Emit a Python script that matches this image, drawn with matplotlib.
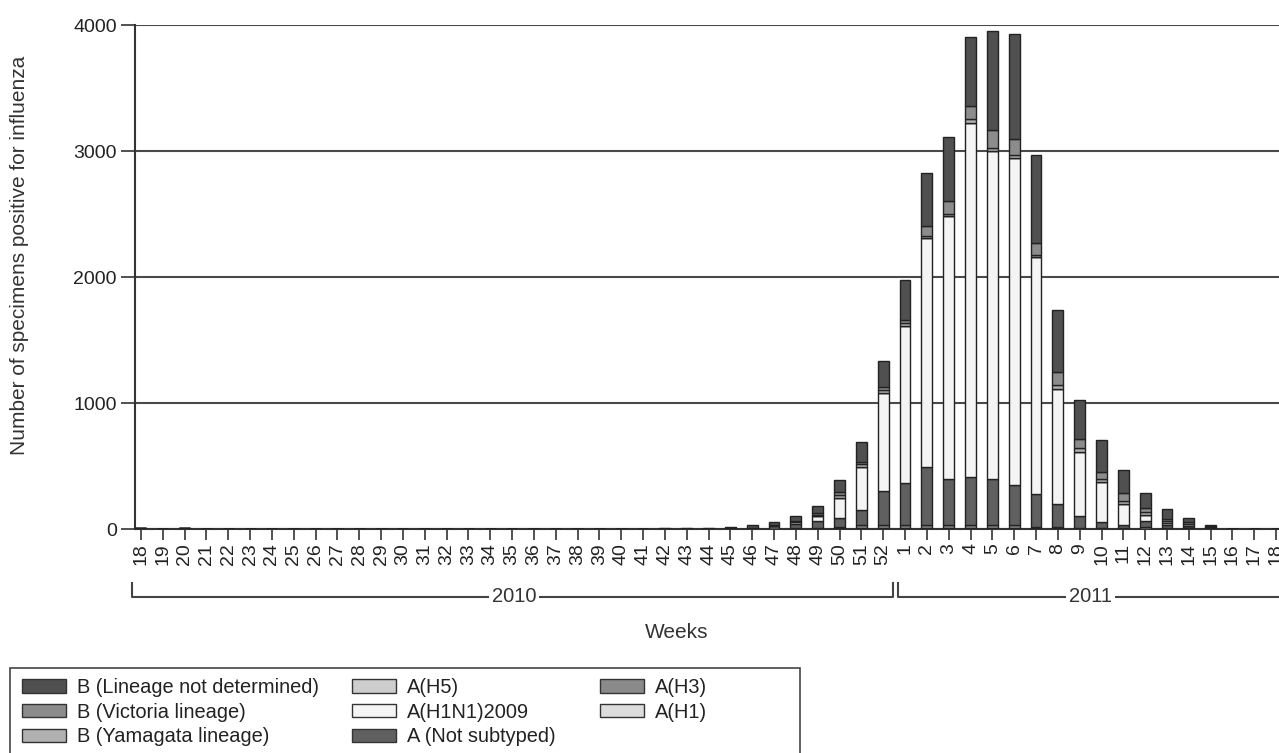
import matplotlib
matplotlib.use("Agg")
import matplotlib.pyplot as plt
import matplotlib.transforms as mtransforms
from matplotlib.patches import Patch, Rectangle

plt.rcParams['font.family'] = ['Liberation Sans', 'DejaVu Sans']

# week labels: 2010 weeks 18-52, 2011 weeks 1-18
weeks_2010 = [18, 19, 20, 21, 22, 23, 24, 25, 26, 27, 28, 29, 30, 31, 32, 33, 34, 35,
              36, 37, 38, 39, 40, 41, 42, 43, 44, 45, 46, 47, 48, 49, 50, 51, 52]
weeks_2011 = [1, 2, 3, 4, 5, 6, 7, 8, 9, 10, 11, 12, 13, 14, 15, 16, 17, 18]

# counts per week, stacked bottom -> top
a_h1 = [0, 0, 0, 0, 0, 0, 0, 0, 0, 0,
        0, 0, 0, 0, 0, 0, 0, 0, 0, 0,
        0, 0, 0, 0, 0, 0, 0, 0, 0, 0,
        2, 3, 5, 8, 10,
        10, 10, 10, 10, 10, 10, 5, 5, 3, 3, 3, 3, 2, 2, 0, 0, 0, 0]
a_h3 = [0, 0, 0, 0, 0, 0, 0, 0, 0, 0,
        0, 0, 0, 0, 0, 0, 0, 0, 0, 0,
        0, 0, 0, 0, 0, 0, 0, 0, 0, 3,
        5, 7, 10, 22, 25,
        25, 25, 20, 20, 25, 25, 10, 10, 7, 7, 7, 12, 8, 5, 0, 0, 0, 0]
a_not_subtyped = [5, 0, 8, 0, 0, 0, 0, 0, 0, 0,
                  0, 0, 0, 0, 0, 0, 0, 0, 0, 0,
                  0, 0, 0, 0, 2, 2, 2, 5, 10, 20,
                  35, 50, 75, 120, 268,
                  332, 458, 364, 384, 359, 313, 262, 183, 93, 48, 25, 50, 20, 15, 10, 0, 0, 0]
a_h1n1 = [0, 0, 0, 0, 0, 0, 0, 0, 0, 0,
          0, 0, 0, 0, 0, 0, 0, 0, 0, 0,
          0, 0, 0, 0, 0, 0, 0, 0, 0, 5,
          10, 40, 153, 344, 777,
          1241, 1814, 2093, 2812, 2608, 2596, 1880, 916, 509, 317, 163, 45, 15, 5, 0, 0, 0, 0]
a_h5 = [0, 0, 0, 0, 0, 0, 0, 0, 0, 0,
        0, 0, 0, 0, 0, 0, 0, 0, 0, 0,
        0, 0, 0, 0, 0, 0, 0, 0, 0, 0,
        0, 0, 0, 0, 0,
        0, 0, 0, 0, 0, 0, 0, 0, 0, 0, 0, 0, 0, 0, 0, 0, 0, 0]
b_yamagata = [0, 0, 0, 0, 0, 0, 0, 0, 0, 0,
              0, 0, 0, 0, 0, 0, 0, 0, 0, 0,
              0, 0, 0, 0, 0, 0, 0, 0, 0, 0,
              8, 12, 25, 20, 23,
              25, 20, 15, 25, 25, 25, 20, 30, 30, 20, 25, 25, 20, 15, 5, 0, 0, 0]
b_victoria = [0, 0, 0, 0, 0, 0, 0, 0, 0, 0,
              0, 0, 0, 0, 0, 0, 0, 0, 0, 0,
              0, 0, 0, 0, 0, 0, 0, 0, 0, 0,
              5, 13, 28, 20, 27,
              25, 75, 100, 110, 140, 130, 95, 100, 70, 60, 65, 30, 15, 10, 5, 0, 0, 0]
b_not_determined = [0, 0, 0, 0, 0, 0, 0, 0, 0, 0,
                    0, 0, 0, 0, 0, 0, 0, 0, 0, 0,
                    0, 0, 0, 0, 3, 3, 3, 10, 20, 27,
                    40, 60, 89, 156, 203,
                    322, 420, 513, 547, 785, 827, 698, 493, 312, 250, 182, 120, 78, 35, 15, 0, 0, 0]

series = [
    ("A(H1)", a_h1, "#dcdcdc"),
    ("A(H3)", a_h3, "#8a8a8a"),
    ("A (Not subtyped)", a_not_subtyped, "#606060"),
    ("A(H1N1)2009", a_h1n1, "#f4f4f4"),
    ("A(H5)", a_h5, "#cdcdcd"),
    ("B (Yamagata lineage)", b_yamagata, "#b0b0b0"),
    ("B (Victoria lineage)", b_victoria, "#8c8c8c"),
    ("B (Lineage not determined)", b_not_determined, "#505050"),
]

W, H = 1279, 753
fig = plt.figure(figsize=(W / 100, H / 100), dpi=100)
ax = fig.add_axes([135 / W, 1 - 529 / H, 1 - 135 / W, (529 - 25) / H])

labels = [str(w) for w in weeks_2010 + weeks_2011]
x = list(range(len(labels)))

bottom = [0] * len(x)
colours = {}
for name, vals, col in series:
    ax.bar(x, vals, width=0.5, bottom=bottom, color=col,
           edgecolor="#222222", linewidth=1.0, zorder=3)
    colours[name] = col
    bottom = [b + v for b, v in zip(bottom, vals)]

ax.set_ylim(0, 4000)
ax.set_xlim(-0.27, 52.13)
ax.set_yticks([0, 1000, 2000, 3000, 4000])
ax.set_xticks(x)
ax.set_xticklabels(labels, rotation=90, fontsize=14, color="#222222")
ax.tick_params(axis="y", labelsize=14, length=10, width=1.2, pad=3,
               color="#333333", labelcolor="#222222")
ax.tick_params(axis="x", length=8, width=1.2, pad=2, color="#333333")

ax.yaxis.grid(True, color="#4a4a4a", linewidth=1.5, zorder=0)
ax.set_axisbelow(True)
for s in ["top", "right"]:
    ax.spines[s].set_visible(False)
for s in ["left", "bottom"]:
    ax.spines[s].set_color("#333333")
    ax.spines[s].set_linewidth(1.5)

fig.text(20 / W, 1 - 255 / H, "Number of specimens positive for influenza",
         rotation=90, ha="center", va="center", fontsize=15, color="#333333")
fig.text(677 / W, 1 - 632 / H, "Weeks", ha="center", va="center",
         fontsize=15, color="#333333")

# year brackets under the week labels
trans = mtransforms.blended_transform_factory(ax.transData, fig.transFigure)
y_line = 1 - 597 / H
y_tick = 1 - 583 / H
lc = "#444444"
ax.plot([-0.41, -0.41, 34.45, 34.45], [y_tick, y_line, y_line, y_tick],
        transform=trans, color=lc, lw=1.5, clip_on=False)
ax.plot([34.68, 34.68, 53.5], [y_tick, y_line, y_line],
        transform=trans, color=lc, lw=1.5, clip_on=False)
for xp, yr in [(17.1, "2010"), (43.5, "2011")]:
    ax.text(xp, y_line, yr, transform=trans, ha="center", va="center",
            fontsize=14.5, color="#333333", clip_on=False,
            bbox=dict(facecolor="white", edgecolor="none", pad=2))

# legend, three columns inside one frame
fig.patches.append(Rectangle((10 / W, -0.05), 790 / W, 0.05 + 1 - 668 / H,
                             transform=fig.transFigure, facecolor="none",
                             edgecolor="#444444", linewidth=1.2))
columns = [
    (22, ["B (Lineage not determined)", "B (Victoria lineage)", "B (Yamagata lineage)"]),
    (352, ["A(H5)", "A(H1N1)2009", "A (Not subtyped)"]),
    (600, ["A(H3)", "A(H1)"]),
]
for xl, names in columns:
    handles = [Patch(facecolor=colours[n], edgecolor="#333333", linewidth=1.0) for n in names]
    leg = fig.legend(handles, names, loc="upper left",
                     bbox_to_anchor=(xl / W, 1 - 678 / H), frameon=False,
                     fontsize=14.4, handlelength=2.2, handleheight=0.65,
                     handletextpad=0.55, labelspacing=0.28, borderpad=0,
                     borderaxespad=0)
    for t in leg.get_texts():
        t.set_color("#222222")

fig.savefig("out.png", dpi=100)
